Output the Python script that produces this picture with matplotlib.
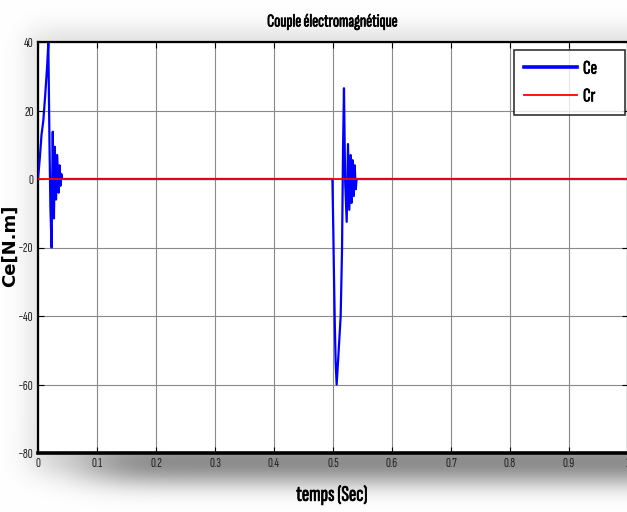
import numpy as np
import matplotlib
matplotlib.use("Agg")
import matplotlib.pyplot as plt
import matplotlib.patheffects as pe

# Electromagnetic torque Ce: start-up transient, then load step at t = 0.5 s
t_ce = [0.0, 0.003, 0.006, 0.009, 0.012, 0.0155, 0.0175, 0.0195, 0.021, 0.023,
        0.025, 0.027, 0.0285, 0.0305, 0.0325, 0.035, 0.0365, 0.038, 0.0395, 0.041,
        0.499, 0.5005, 0.5017, 0.503, 0.5045, 0.5062, 0.509, 0.513, 0.5153, 0.517,
        0.5186, 0.5205, 0.5232, 0.5254, 0.5276, 0.5298, 0.5315, 0.5332, 0.535,
        0.5368, 0.5385, 0.540, 1.0]
ce = [0.0, 6.0, 13.0, 17.0, 24.0, 33.0, 39.6, 10.0, -8.0, -20.0,
      13.8, -11.5, 9.4, -6.0, 7.0, -4.0, 4.0, -2.0, 1.5, 0.0,
      0.0, -15.0, -28.5, -42.0, -53.7, -60.0, -52.0, -40.0, -20.7, 8.5,
      26.5, 0.0, -12.5, 10.2, -9.0, 7.0, -7.0, 5.5, -5.0,
      4.0, -3.0, 0.0, 0.0]

# Load torque Cr
t_cr = [0.0, 1.0]
cr = [0.0, 0.0]

x_ticks = [0, 0.1, 0.2, 0.3, 0.4, 0.5, 0.6, 0.7, 0.8, 0.9, 1]
x_labels = ["0", "0.1", "0.2", "0.3", "0.4", "0.5", "0.6", "0.7", "0.8", "0.9", "1"]
y_ticks = [-80, -60, -40, -20, 0, 20, 40]

narrow = ["Sofia Sans Extra Condensed", "Fira Sans Extra Condensed", "Liberation Sans"]
heavy = [pe.withStroke(linewidth=0.5, foreground="black")]

W, H = 627, 512
fig = plt.figure(figsize=(W / 100, H / 100), dpi=100)
fig.patch.set_facecolor("white")

ax_l, ax_r, ax_t, ax_b = 38, 628, 42, 453


def blur1d(a, sigma, axis):
    r = int(3 * sigma)
    k = np.exp(-0.5 * (np.arange(-r, r + 1) / sigma) ** 2)
    k /= k.sum()
    return np.apply_along_axis(lambda v: np.convolve(np.pad(v, r, mode="edge"), k, mode="valid"), axis, a)


# soft drop shadow around the plotting area, heavier underneath
mask = np.zeros((H, W))
mask[30:470, 30:W] = 1.0
mask = blur1d(blur1d(mask, 12, 0), 14, 1)
extra = np.zeros((H, W))
extra[448:482, 90:W] = 1.0
extra = blur1d(blur1d(extra, 12, 0), 35, 1)
shade = np.clip(1.0 - 0.13 * mask - 0.42 * extra, 0, 1)
bg = fig.add_axes([0, 0, 1, 1], zorder=-10)
bg.imshow(np.dstack([shade] * 3), extent=[0, W, H, 0], aspect="auto",
          interpolation="bilinear", vmin=0, vmax=1)
bg.set_axis_off()

ax = fig.add_axes([ax_l / W, 1 - ax_b / H, (ax_r - ax_l) / W, (ax_b - ax_t) / H], zorder=1)
ax.set_facecolor("white")

ax.plot(t_ce, ce, color="#0000ff", lw=1.6, label="Ce", zorder=3)
ax.plot(t_cr, cr, color="#ff0000", lw=1.3, label="Cr", zorder=4)

ax.set_xlim(0, 1)
ax.set_ylim(-80, 40)
ax.set_xticks(x_ticks)
ax.set_xticklabels(x_labels)
ax.set_yticks(y_ticks)
ax.grid(True, color="#8a8a8a", lw=0.8)
ax.tick_params(direction="in", top=True, right=True, length=4, width=0.8,
               labelsize=10, pad=3, labelcolor="#222222")
for lab in ax.get_xticklabels() + ax.get_yticklabels():
    lab.set_family(narrow)

ax.spines["bottom"].set_linewidth(2.6)
ax.spines["left"].set_linewidth(1.6)
ax.spines["top"].set_linewidth(1.6)
ax.spines["right"].set_linewidth(1.6)

fig.text(332 / W, 1 - 22 / H, "Couple électromagnétique", family=narrow,
         fontweight="bold", fontsize=13, ha="center", va="center", path_effects=heavy)
fig.text(332 / W, 1 - 495 / H, "temps (Sec)", family=narrow,
         fontweight="bold", fontsize=16, ha="center", va="center", path_effects=heavy)
fig.text(10 / W, 1 - 246 / H, "Ce[N.m]", fontweight="bold", fontsize=13,
         rotation=90, ha="center", va="center")

# legend box spanning x 514..625 px, y 50..117 px
lx0 = (514 - ax_l) / (ax_r - ax_l)
lw_ = (625 - 514) / (ax_r - ax_l)
ly1 = (ax_b - 50) / (ax_b - ax_t)
lh = (117 - 50) / (ax_b - ax_t)
leg = ax.legend(loc="upper left", bbox_to_anchor=(lx0, ly1 - lh, lw_, lh), mode="expand",
                frameon=True, fancybox=False, edgecolor="black",
                prop={"family": narrow, "weight": "bold", "size": 14},
                handlelength=2.75, handletextpad=0.3, borderpad=0.5, labelspacing=0.5,
                borderaxespad=0)
leg.get_frame().set_linewidth(1.2)
leg.get_lines()[0].set_linewidth(2.6)
for txt in leg.get_texts():
    txt.set_path_effects(heavy)

fig.savefig("out.png", dpi=100)
